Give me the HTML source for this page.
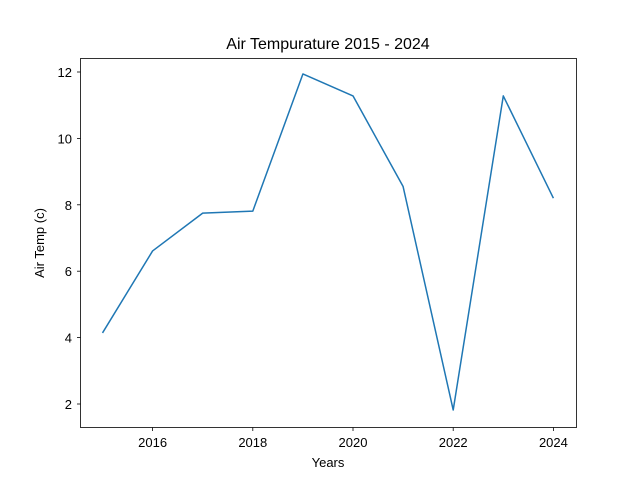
<!DOCTYPE html>
<html><head><meta charset="utf-8"><style>
html,body{margin:0;padding:0;background:#fff;}
svg{display:block;font-family:"Liberation Sans","DejaVu Sans",sans-serif;}
</style></head><body>
<svg id="chart" width="640" height="480">
<rect x="0" y="0" width="640" height="480" fill="#fff"/>
<text x="328" y="49" font-size="16" text-anchor="middle">Air Tempurature 2015 - 2024</text>
<g id="xticks"></g>
<g id="yticks"></g>
<path id="line" fill="none" stroke="#1f77b4" stroke-width="1.5" stroke-linejoin="round"/>
<rect x="80.5" y="58.5" width="496" height="369" fill="none" stroke="#000" stroke-width="0.8"/>
<text x="328" y="467" font-size="13" text-anchor="middle">Years</text>
<text x="0" y="0" font-size="13" text-anchor="middle" transform="translate(44,243) rotate(-90)">Air Temp (c)</text>
</svg>
<script>
const years=[2015,2016,2017,2018,2019,2020,2021,2022,2023,2024];
const temps=[4.14,6.61,7.75,7.81,11.94,11.28,8.55,1.82,11.28,8.2];
const xTickLabels=[2016,2018,2020,2022,2024];
const yTickLabels=[2,4,6,8,10,12];
function xs(v){return 102.5+(v-2015)*50.1;}
function ys(v){return 72+(12-v)*33.2;}
const NS="http://www.w3.org/2000/svg";
const gx=document.getElementById('xticks'),gy=document.getElementById('yticks');
xTickLabels.forEach(v=>{
 const l=document.createElementNS(NS,'line');
 l.setAttribute('x1',xs(v));l.setAttribute('x2',xs(v));l.setAttribute('y1',427.5);l.setAttribute('y2',431);
 l.setAttribute('stroke','#000');l.setAttribute('stroke-width','0.8');
 
 
 gx.appendChild(l);
 const t=document.createElementNS(NS,'text');
 t.setAttribute('x',xs(v));t.setAttribute('y',447);t.setAttribute('font-size','13');t.setAttribute('text-anchor','middle');
 t.textContent=v;
 
 
 gx.appendChild(t);
});
yTickLabels.forEach(v=>{
 const l=document.createElementNS(NS,'line');
 l.setAttribute('x1',77);l.setAttribute('x2',80.5);l.setAttribute('y1',ys(v));l.setAttribute('y2',ys(v));
 l.setAttribute('stroke','#000');l.setAttribute('stroke-width','0.8');
 
 
 gy.appendChild(l);
 const t=document.createElementNS(NS,'text');
 t.setAttribute('x',72);t.setAttribute('y',ys(v)+5);t.setAttribute('font-size','13');t.setAttribute('text-anchor','end');
 t.textContent=v;
 
 
 gy.appendChild(t);
});
document.getElementById('line').setAttribute('d',years.map((y,i)=>(i?'L':'M')+xs(y)+','+ys(temps[i])).join(' '));
</script>
</body></html>
